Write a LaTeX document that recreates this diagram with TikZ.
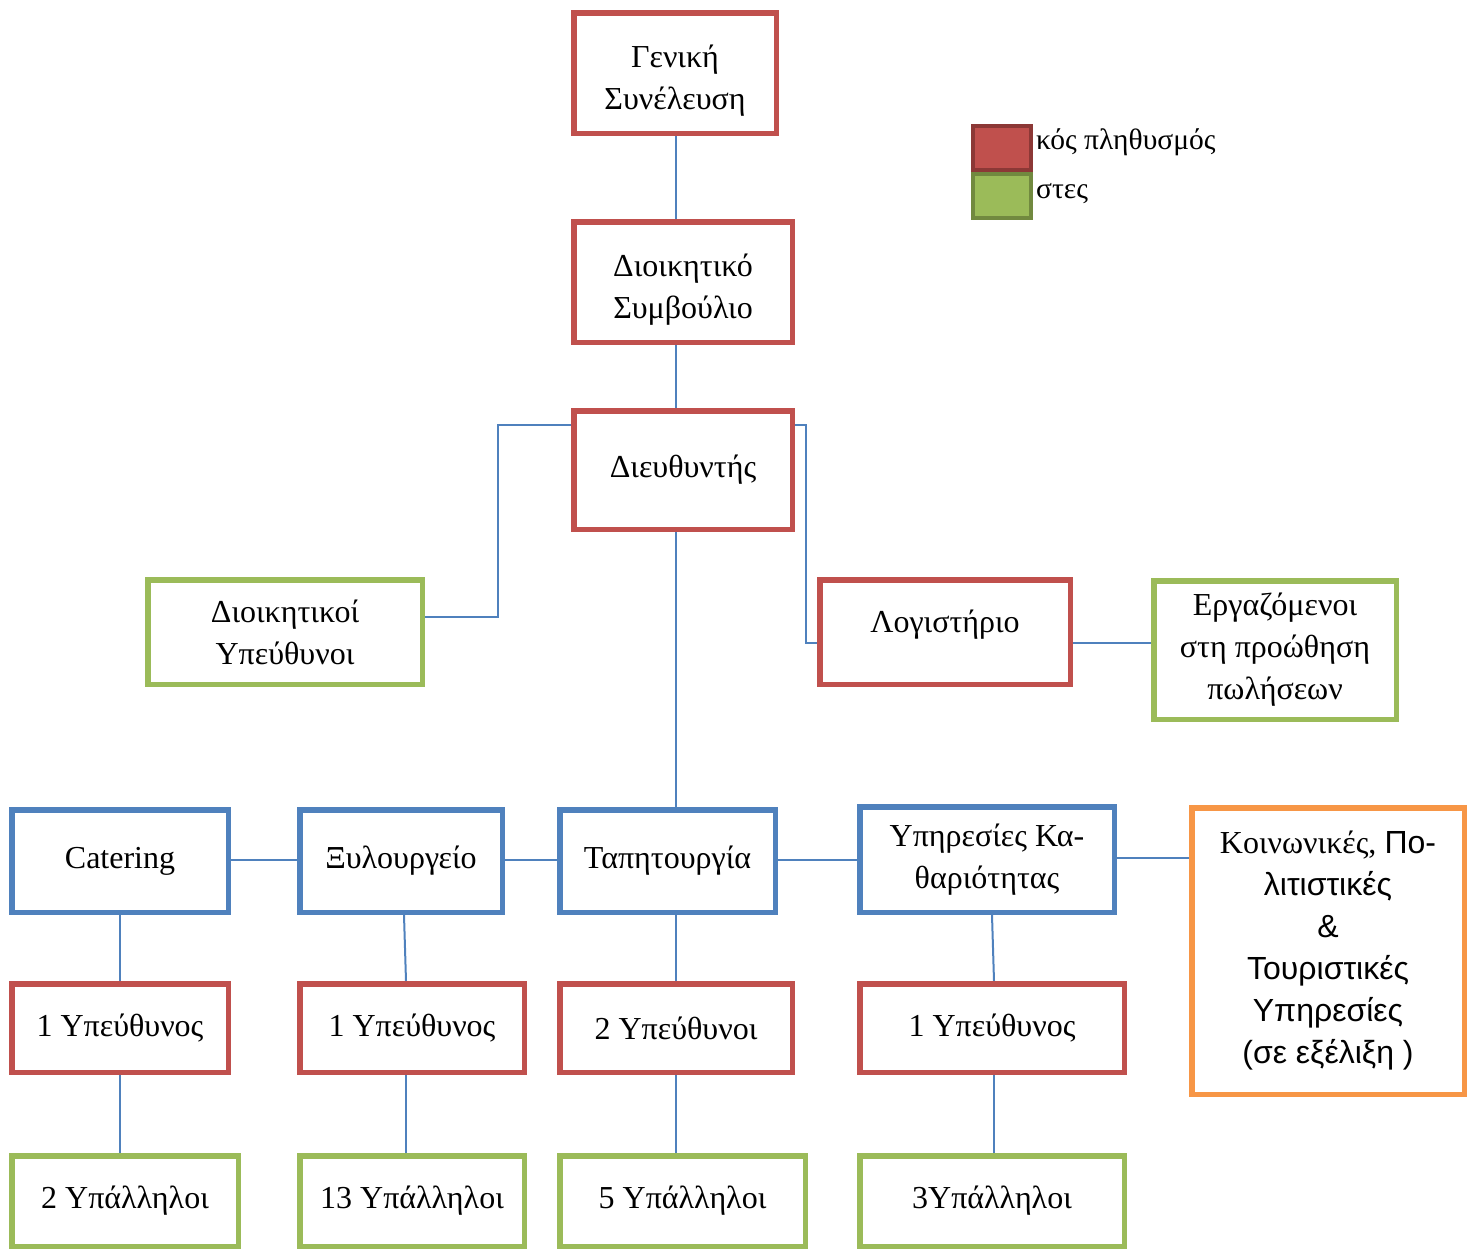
\documentclass[tikz,border=0pt]{standalone}
\usepackage{fontspec}
\setmainfont{Liberation Serif}
\newfontfamily\sansf{Liberation Sans}
\pgfdeclarelayer{bg}
\pgfsetlayers{bg,main}
\definecolor{cred}{HTML}{C0504D}
\definecolor{cblue}{HTML}{4F81BD}
\definecolor{cgreen}{HTML}{9BBB59}
\definecolor{corange}{HTML}{F79646}
\definecolor{credd}{HTML}{8C3836}
\definecolor{cgreend}{HTML}{71893F}
\tikzset{
  box/.style={draw, line width=5.5pt, fill=white, align=center, inner sep=0pt,
    font=\fontsize{32}{42}\selectfont},
  redbox/.style={box, draw=cred},
  bluebox/.style={box, draw=cblue},
  greenbox/.style={box, draw=cgreen},
  orangebox/.style={box, draw=corange},
  conn/.style={draw=cblue, line width=2pt},
  legtext/.style={anchor=west, inner sep=0pt, font=\fontsize{29.5}{42}\selectfont}
}
\newcommand{\boxat}[7]{% style, name, x1, y1, x2, y2, text
  \pgfmathsetmacro{\bw}{#5-#3-5.5}\pgfmathsetmacro{\bh}{#6-#4-5.5}
  \node[#1, minimum width=\bw pt, minimum height=\bh pt] (#2) at ({(#3+#5)/2},{(#4+#6)/2}) {#7};}
\begin{document}
\begin{tikzpicture}[x=1pt,y=-1pt]
\useasboundingbox (0,0) rectangle (1478,1251);
\boxat{redbox}{gs}{571}{10}{779}{136}{\\[-4pt]Γενική\\Συνέλευση}
\boxat{redbox}{ds}{571}{219}{795}{345}{\\[-4pt]Διοικητικό\\Συμβούλιο}
\boxat{redbox}{dir}{571}{408}{795}{532}{Διευθυντής}
\boxat{greenbox}{dio}{145}{577}{425}{687}{Διοικητικοί\\Υπεύθυνοι}
\boxat{redbox}{log}{817}{577}{1073}{687}{Λογιστήριο\\[-20pt]}
\boxat{greenbox}{erg}{1151}{578}{1399}{722}{Εργαζόμενοι\\στη προώθηση\\πωλήσεων}
\boxat{bluebox}{cat}{9}{807}{231}{915}{Catering}
\boxat{bluebox}{xyl}{297}{807}{505}{915}{Ξυλουργείο}
\boxat{bluebox}{tap}{557}{807}{778}{915}{Ταπητουργία}
\boxat{bluebox}{kath}{857}{804}{1117}{915}{Υπηρεσίες Κα-\\θαριότητας}
\boxat{orangebox}{koin}{1189}{805}{1467}{1097}{Κοινωνικές, {\sansf Πο-}\\{\sansf λιτιστικές}\\{\sansf \&}\\{\sansf Τουριστικές}\\{\sansf Υπηρεσίες}\\{\sansf (σε εξέλιξη )}}
\boxat{redbox}{ya}{9}{981}{231}{1075}{1 Υπεύθυνος}
\boxat{redbox}{yb}{297}{981}{527}{1075}{1 Υπεύθυνος}
\boxat{redbox}{yc}{557}{981}{795}{1075}{2 Υπεύθυνοι}
\boxat{redbox}{yd}{857}{981}{1127}{1075}{1 Υπεύθυνος}
\boxat{greenbox}{pa}{9}{1153}{241}{1249}{2 Υπάλληλοι}
\boxat{greenbox}{pb}{297}{1153}{527}{1249}{13 Υπάλληλοι}
\boxat{greenbox}{pc}{557}{1153}{808}{1249}{5 Υπάλληλοι}
\boxat{greenbox}{pd}{857}{1153}{1127}{1249}{3Υπάλληλοι}
% legend
\node[draw=credd, fill=cred, line width=4pt, minimum width=58pt, minimum height=44pt, inner sep=0pt] (lr) at (1002,148) {};
\node[draw=cgreend, fill=cgreen, line width=4pt, minimum width=58pt, minimum height=44pt, inner sep=0pt] (lg) at (1002,196) {};
\node[legtext] (lrt) at (1036,142) {κός πληθυσμός};
\node[legtext] (lgt) at (1036,194) {στες};
\begin{pgfonlayer}{bg}
\draw[conn] (676,0 |- gs.south) -- (676,0 |- ds.north);
\draw[conn] (676,0 |- ds.south) -- (676,0 |- dir.north);
\draw[conn] (676,0 |- dir.south) -- (676,0 |- tap.north);
\draw[conn] (dir.west |- 0,425) -| (498,617) -- (dio.east |- 0,617);
\draw[conn] (dir.east |- 0,425) -| (806,643) -- (log.west |- 0,643);
\draw[conn] (log.east |- 0,643) -- (erg.west |- 0,643);
\draw[conn] (cat.east |- 0,860) -- (xyl.west |- 0,860);
\draw[conn] (xyl.east |- 0,860) -- (tap.west |- 0,860);
\draw[conn] (tap.east |- 0,860) -- (kath.west |- 0,860);
\draw[conn] (kath.east |- 0,858) -- (koin.west |- 0,858);
\draw[conn] (120,0 |- cat.south) -- (120,0 |- ya.north);
\draw[conn] (120,0 |- ya.south) -- (120,0 |- pa.north);
\draw[conn] (404,0 |- xyl.south) -- (406,0 |- yb.north);
\draw[conn] (406,0 |- yb.south) -- (406,0 |- pb.north);
\draw[conn] (676,0 |- tap.south) -- (676,0 |- yc.north);
\draw[conn] (676,0 |- yc.south) -- (676,0 |- pc.north);
\draw[conn] (992,0 |- kath.south) -- (994,0 |- yd.north);
\draw[conn] (994,0 |- yd.south) -- (994,0 |- pd.north);
\end{pgfonlayer}
\end{tikzpicture}
\end{document}
